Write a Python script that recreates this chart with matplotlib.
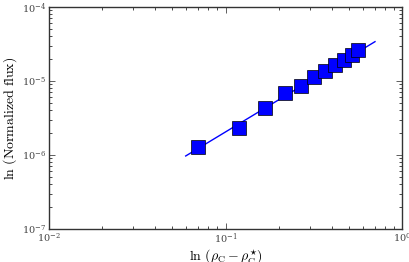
import numpy as np
import matplotlib
matplotlib.use("Agg")
import matplotlib.pyplot as plt

plt.rcParams['mathtext.fontset'] = 'cm'
plt.rcParams['font.family'] = 'serif'
plt.rcParams['font.serif'] = ['DejaVu Serif']
plt.rcParams['xtick.direction'] = 'in'
plt.rcParams['ytick.direction'] = 'in'
plt.rcParams['xtick.top'] = True
plt.rcParams['ytick.right'] = True

# measured points
rho_diff = [0.070, 0.119, 0.168, 0.217, 0.268, 0.317, 0.366, 0.417, 0.469, 0.521, 0.563]
flux = [1.28e-6, 2.32e-6, 4.32e-6, 6.88e-6, 8.56e-6, 1.13e-5, 1.36e-5, 1.64e-5,
        1.92e-5, 2.25e-5, 2.62e-5]

# power-law fit
fit_x = [0.0595, 0.703]
fit_y = [9.7e-7, 3.4e-5]

fig = plt.figure(figsize=(4.09, 2.62), dpi=100)
ax = fig.add_axes([49/409, 1 - 229/262, 353/409, 222/262])

ax.plot(fit_x, fit_y, '-', color='blue', linewidth=1.0)
ax.plot(rho_diff, flux, 's', color='blue', markersize=9.5,
        markeredgecolor='black', markeredgewidth=0.5)

ax.set_xscale('log')
ax.set_yscale('log')
ax.set_xlim(1e-2, 1e0)
ax.set_ylim(1e-7, 1e-4)

ax.set_xlabel(r'$\mathrm{ln}\ (\rho_{\mathrm{C}} - \rho_{\mathrm{C}}^{\star})$',
              fontsize=10, labelpad=1)
ax.set_ylabel(r'$\mathrm{ln\ (Normalized\ flux)}$', fontsize=10, labelpad=2)

ax.tick_params(which='major', length=4, width=0.6, labelsize=7, pad=2,
               colors='#444444')
ax.tick_params(which='minor', length=2, width=0.5)
for s in ax.spines.values():
    s.set_linewidth(1.0)
    s.set_color('#333333')

fig.savefig('out.png', dpi=100)
